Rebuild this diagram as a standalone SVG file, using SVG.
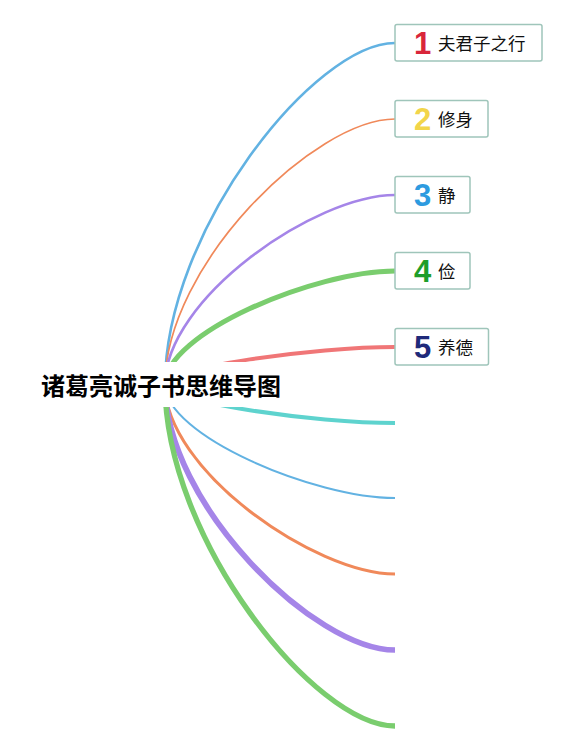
<svg xmlns="http://www.w3.org/2000/svg" width="587" height="752" viewBox="0 0 587 752">
<style>
.ln{fill:none;stroke-linecap:butt}
.box{fill:#ffffff;stroke:#9fc5ba;stroke-width:1.5}
.num{font-family:"Liberation Sans",Arial,sans-serif;font-weight:bold;font-size:31px;text-anchor:middle}
.lbl{font-family:"Noto Sans CJK SC",sans-serif;font-size:17.5px;fill:#111111}
.title{font-family:"Noto Sans CJK SC",sans-serif;font-weight:bold;font-size:24px;fill:#000000;text-anchor:middle}
</style>
<rect width="587" height="752" fill="#ffffff"/>
<g id="connectors">
<path class="ln" d="M165 384.5 C165 230.8 314.5 43 395 43" stroke="#62b2e2" stroke-width="2.6"/>
<path class="ln" d="M165 384.5 C165 265 314.5 119 395 119" stroke="#f0895a" stroke-width="1.7"/>
<path class="ln" d="M165 384.5 C165 299.2 314.5 195 395 195" stroke="#a585e8" stroke-width="2.7"/>
<path class="ln" d="M165 384.5 C165 333.4 314.5 271 395 271" stroke="#7acd6e" stroke-width="5"/>
<path class="ln" d="M165 384.5 C165 367.6 314.5 347 395 347" stroke="#f07677" stroke-width="3.8"/>
<path class="ln" d="M165 384.5 C165 401.8 314.5 423 395 423" stroke="#5ed3ce" stroke-width="4"/>
<path class="ln" d="M165 384.5 C165 435.6 314.5 498 395 498" stroke="#62b2e2" stroke-width="2"/>
<path class="ln" d="M165 384.5 C165 469.8 314.5 574 395 574" stroke="#f0895a" stroke-width="3"/>
<path class="ln" d="M165 384.5 C165 504 314.5 650 395 650" stroke="#a585e8" stroke-width="5.7"/>
<path class="ln" d="M165 384.5 C165 538.2 314.5 726 395 726" stroke="#7acd6e" stroke-width="5.3"/>
</g>
<g id="root">
<rect x="32" y="362" width="258" height="45" fill="#ffffff"/>
<text class="title" x="161" y="394.5">诸葛亮诚子书思维导图</text>
</g>
<g id="n1">
<rect class="box" x="395" y="24.5" width="147" height="36.5" rx="2"/>
<text class="num" x="422.5" y="54" fill="#d9263a">1</text>
<text class="lbl" x="438" y="49.5">夫君子之行</text>
</g>
<g id="n2">
<rect class="box" x="395" y="100.5" width="93" height="36.5" rx="2"/>
<text class="num" x="422.5" y="130" fill="#f2d54a">2</text>
<text class="lbl" x="438" y="125.5">修身</text>
</g>
<g id="n3">
<rect class="box" x="395" y="176.5" width="75" height="36.5" rx="2"/>
<text class="num" x="422.5" y="206" fill="#2d9be0">3</text>
<text class="lbl" x="438" y="201.5">静</text>
</g>
<g id="n4">
<rect class="box" x="395" y="252.5" width="75" height="36.5" rx="2"/>
<text class="num" x="422.5" y="282" fill="#1e9e2a">4</text>
<text class="lbl" x="438" y="277.5">俭</text>
</g>
<g id="n5">
<rect class="box" x="395" y="328.5" width="93.5" height="36.5" rx="2"/>
<text class="num" x="422.5" y="358" fill="#1f2a7a">5</text>
<text class="lbl" x="438" y="353.5">养德</text>
</g>
</svg>
